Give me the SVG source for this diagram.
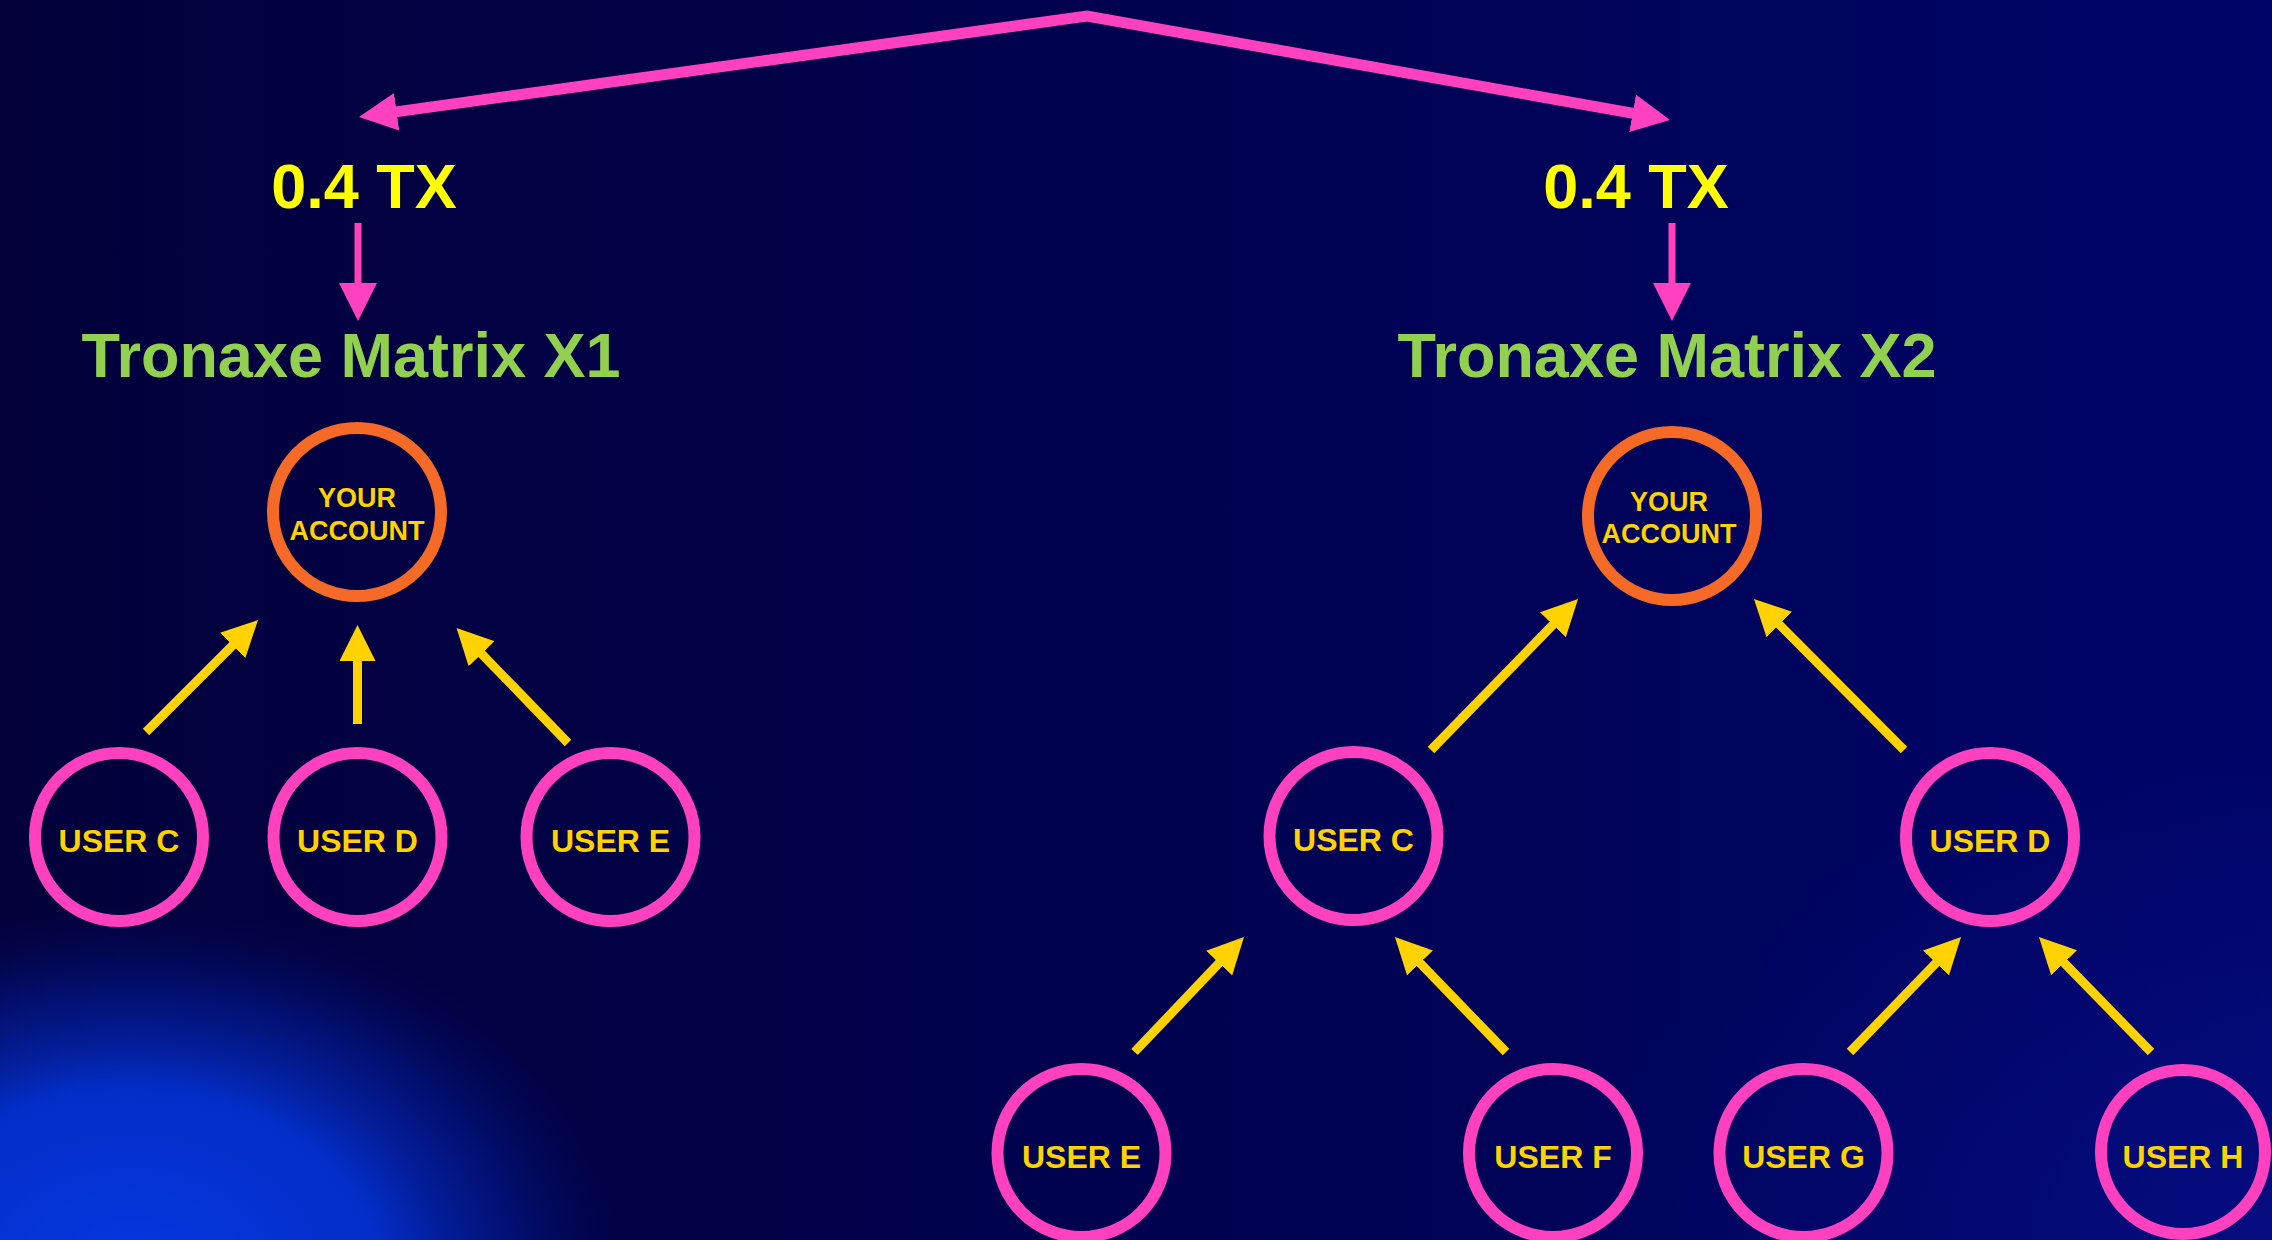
<svg xmlns="http://www.w3.org/2000/svg" width="2272" height="1240" viewBox="0 0 2272 1240">
  <defs>
    <linearGradient id="bg" x1="0" y1="0" x2="1" y2="0">
      <stop offset="0" stop-color="#03003A"/>
      <stop offset="0.5" stop-color="#00024F"/>
      <stop offset="1" stop-color="#000468"/>
    </linearGradient>
    <radialGradient id="glowBL" cx="0.5" cy="0.5" r="0.5">
      <stop offset="0" stop-color="#0538E2" stop-opacity="1"/>
      <stop offset="0.5" stop-color="#0433D8" stop-opacity="0.9"/>
      <stop offset="0.78" stop-color="#0320A8" stop-opacity="0.45"/>
      <stop offset="1" stop-color="#02106A" stop-opacity="0"/>
    </radialGradient>
    <radialGradient id="glowBR" cx="0.5" cy="0.5" r="0.5">
      <stop offset="0" stop-color="#0A1598" stop-opacity="0.5"/>
      <stop offset="1" stop-color="#0A1598" stop-opacity="0"/>
    </radialGradient>
    <marker id="yhead" viewBox="0 0 36 36" markerUnits="userSpaceOnUse" markerWidth="36" markerHeight="36" refX="6" refY="18" orient="auto">
      <path d="M0,0 L36,18 L0,36 Z" fill="#FFD200"/>
    </marker>
    <marker id="phead" viewBox="0 0 38 38" markerUnits="userSpaceOnUse" markerWidth="38" markerHeight="38" refX="8" refY="19" orient="auto-start-reverse">
      <path d="M0,0 L38,19 L0,38 Z" fill="#FF40BF"/>
    </marker>
    <style>
      .ring-user { fill: none; stroke: #FF40BF; stroke-width: 12; }
      .ring-acc { fill: none; stroke: #F46A26; stroke-width: 12; }
      .lbl { font-family: "Liberation Sans", Arial, sans-serif; font-weight: bold; fill: #FFD200; text-anchor: middle; }
      .user { font-size: 32px; }
      .acc { font-size: 27px; }
      .tx { font-family: "Liberation Sans", Arial, sans-serif; font-weight: bold; font-size: 63px; fill: #FFFF00; text-anchor: middle; }
      .title { font-family: "Liberation Sans", Arial, sans-serif; font-weight: bold; font-size: 63px; fill: #92D050; text-anchor: middle; }
      .yarrow { stroke: #FFD200; stroke-width: 9; fill: none; marker-end: url(#yhead); }
      .parrow { stroke: #FF40BF; fill: none; }
    </style>
  </defs>

  <rect x="0" y="0" width="2272" height="1240" fill="url(#bg)"/>
  <ellipse cx="2272" cy="1240" rx="700" ry="500" fill="url(#glowBR)"/>
  <ellipse cx="130" cy="1275" rx="500" ry="370" fill="url(#glowBL)"/>

  <g id="connectors">
    <polyline class="parrow" stroke-width="11" stroke-linejoin="miter" points="388.7,112.9 1087,16 1640.5,114.7" marker-start="url(#phead)" marker-end="url(#phead)"/>
    <line class="parrow" stroke-width="7" x1="358" y1="223" x2="358" y2="291" marker-end="url(#phead)"/>
    <line class="parrow" stroke-width="7" x1="1672" y1="223" x2="1672" y2="291" marker-end="url(#phead)"/>

    <line class="yarrow" x1="146" y1="732" x2="236.8" y2="641.2"/>
    <line class="yarrow" x1="357.5" y1="724" x2="357.5" y2="655"/>
    <line class="yarrow" x1="568" y1="743" x2="477.4" y2="649.5"/>

    <line class="yarrow" x1="1431" y1="750" x2="1557.1" y2="620.5"/>
    <line class="yarrow" x1="1904" y1="750" x2="1775.1" y2="620.3"/>

    <line class="yarrow" x1="1134.5" y1="1052" x2="1223.3" y2="958.7"/>
    <line class="yarrow" x1="1506" y1="1052" x2="1415.8" y2="958.6"/>
    <line class="yarrow" x1="1850" y1="1052" x2="1940.2" y2="958.6"/>
    <line class="yarrow" x1="2151" y1="1052" x2="2059.9" y2="958.5"/>
  </g>

  <g id="label-tx1"><text class="tx" x="364" y="208">0.4 TX</text></g>
  <g id="label-tx2"><text class="tx" x="1636" y="208">0.4 TX</text></g>
  <g id="title-x1"><text class="title" x="351" y="377">Tronaxe Matrix X1</text></g>
  <g id="title-x2"><text class="title" x="1667" y="377">Tronaxe Matrix X2</text></g>

  <g id="x1-account">
    <circle class="ring-acc" cx="357" cy="512" r="84"/>
    <text class="lbl acc" x="357" y="507">YOUR</text>
    <text class="lbl acc" x="357" y="540">ACCOUNT</text>
  </g>
  <g id="x1-user-c">
    <circle class="ring-user" cx="119" cy="837" r="84"/>
    <text class="lbl user" x="119" y="852">USER C</text>
  </g>
  <g id="x1-user-d">
    <circle class="ring-user" cx="357.5" cy="837" r="84"/>
    <text class="lbl user" x="357.5" y="852">USER D</text>
  </g>
  <g id="x1-user-e">
    <circle class="ring-user" cx="610.5" cy="837" r="84"/>
    <text class="lbl user" x="610.5" y="852">USER E</text>
  </g>

  <g id="x2-account">
    <circle class="ring-acc" cx="1672" cy="516" r="84"/>
    <text class="lbl acc" x="1669" y="511">YOUR</text>
    <text class="lbl acc" x="1669" y="543">ACCOUNT</text>
  </g>
  <g id="x2-user-c">
    <circle class="ring-user" cx="1353.5" cy="836" r="84"/>
    <text class="lbl user" x="1353.5" y="851">USER C</text>
  </g>
  <g id="x2-user-d">
    <circle class="ring-user" cx="1990" cy="837" r="84"/>
    <text class="lbl user" x="1990" y="852">USER D</text>
  </g>
  <g id="x2-user-e">
    <circle class="ring-user" cx="1081.5" cy="1153" r="84"/>
    <text class="lbl user" x="1081.5" y="1168">USER E</text>
  </g>
  <g id="x2-user-f">
    <circle class="ring-user" cx="1553" cy="1153" r="84"/>
    <text class="lbl user" x="1553" y="1168">USER F</text>
  </g>
  <g id="x2-user-g">
    <circle class="ring-user" cx="1803.5" cy="1153" r="84"/>
    <text class="lbl user" x="1803.5" y="1168">USER G</text>
  </g>
  <g id="x2-user-h">
    <circle class="ring-user" cx="2183" cy="1152" r="82"/>
    <text class="lbl user" x="2183" y="1168">USER H</text>
  </g>
</svg>
